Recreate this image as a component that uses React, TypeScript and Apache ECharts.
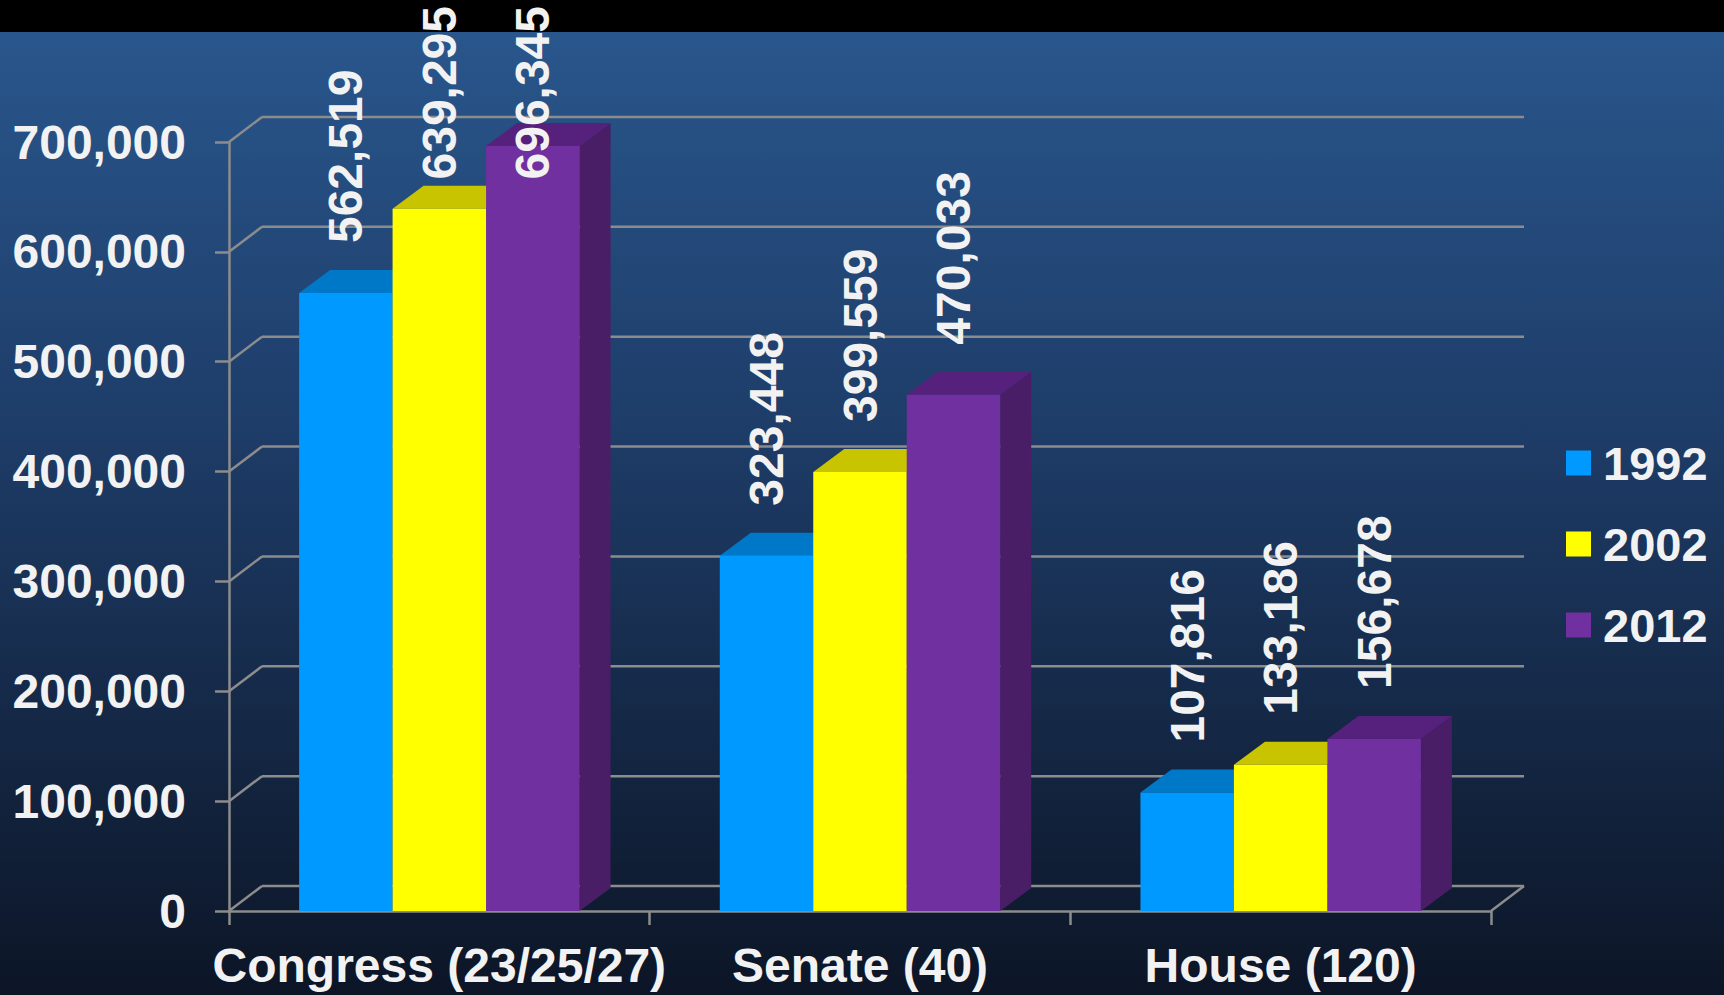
import React, { useEffect, useRef } from "react";
import * as echarts from "echarts";

const categories = ["Congress (23/25/27)", "Senate (40)", "House (120)"];
const years = ["1992", "2002", "2012"];
const values1992 = [562519, 323448, 107816];
const values2002 = [639295, 399559, 133186];
const values2012 = [696345, 470033, 156678];
const yTicks = [0, 100000, 200000, 300000, 400000, 500000, 600000, 700000];

const seriesValues = [values1992, values2002, values2012];

const FRONT = ["#0099ff", "#ffff00", "#7030a0"];
const TOP = ["#0078c8", "#c8c400", "#56217c"];
const SIDE = ["#0064a8", "#a8a400", "#4a1e66"];

const FONT = "'Liberation Sans', Arial, sans-serif";
const TEXT = "#f2f2f2";
const LINE = "#8c8c8c";
const LINE_W = 2.5;
const BAR_DX = 31;
const BAR_DY = 23;
const WALL_DX = 33;
const WALL_DY = 25;
const CAT_GAP = 1 / 3;
const LABEL_FONT = 48;
const LABEL_GAP = 50;
const LABEL_TOP_LIMIT = 6;

function measure(text: string, size: number): number {
  const c = document.createElement("canvas");
  const ctx = c.getContext("2d");
  if (!ctx) return text.length * size * 0.52;
  ctx.font = `bold ${size}px ${FONT}`;
  return ctx.measureText(text).width;
}

const fmt = (v: number) => v.toLocaleString("en-US");

export default function App() {
  const ref = useRef<HTMLDivElement>(null);

  useEffect(() => {
    if (!ref.current) return;
    const chart = echarts.init(ref.current, undefined, { renderer: "svg" });

    const barSeries = seriesValues.map((vals, si) => ({
      type: "custom",
      name: years[si],
      z: 3 + si,
      itemStyle: { color: FRONT[si] },
      data: vals.map((v, ci) => [ci, v]),
      renderItem: (params: any, api: any) => {
        const ci = api.value(0);
        const v = api.value(1);
        const top = api.coord([ci, v]);
        const base = api.coord([ci, 0]);
        const catW = api.size([1, 0])[0];
        const barW = (catW * (1 - CAT_GAP)) / 3;
        const x0 = top[0] - 1.5 * barW + si * barW;
        const yt = top[1];
        const yb = base[1];
        const label = fmt(v);
        const len = measure(label, LABEL_FONT);
        const labelBottom = Math.max(yt - LABEL_GAP, LABEL_TOP_LIMIT + len);
        return {
          type: "group",
          children: [
            {
              type: "polygon",
              shape: {
                points: [
                  [x0 + barW, yt],
                  [x0 + barW + BAR_DX, yt - BAR_DY],
                  [x0 + barW + BAR_DX, yb - BAR_DY],
                  [x0 + barW, yb],
                ],
              },
              style: { fill: SIDE[si] },
            },
            {
              type: "polygon",
              shape: {
                points: [
                  [x0, yt],
                  [x0 + barW, yt],
                  [x0 + barW + BAR_DX, yt - BAR_DY],
                  [x0 + BAR_DX, yt - BAR_DY],
                ],
              },
              style: { fill: TOP[si] },
            },
            {
              type: "rect",
              shape: { x: x0, y: yt, width: barW, height: yb - yt },
              style: { fill: FRONT[si] },
            },
            {
              type: "text",
              x: x0 + barW / 2,
              y: labelBottom,
              rotation: Math.PI / 2,
              z2: 100,
              style: {
                text: label,
                fill: TEXT,
                font: `bold ${LABEL_FONT}px ${FONT}`,
                textAlign: "left",
                textVerticalAlign: "middle",
              },
            },
          ],
        };
      },
    }));

    const wallSeries = {
      type: "custom",
      name: "walls",
      z: 1,
      silent: true,
      data: yTicks.map((t) => [0, t]),
      renderItem: (params: any, api: any) => {
        const v = api.value(1);
        const p = api.coord([0, v]);
        const cs = params.coordSys;
        const left = cs.x;
        const right = cs.x + cs.width;
        const y = p[1];
        const ls = { stroke: LINE, lineWidth: LINE_W };
        const children: any[] = [
          {
            type: "line",
            shape: { x1: left, y1: y, x2: left + WALL_DX, y2: y - WALL_DY },
            style: ls,
          },
          {
            type: "line",
            shape: { x1: left + WALL_DX, y1: y - WALL_DY, x2: right + WALL_DX, y2: y - WALL_DY },
            style: ls,
          },
        ];
        if (v === 0) {
          children.push({
            type: "line",
            shape: { x1: right, y1: y, x2: right + WALL_DX, y2: y - WALL_DY },
            style: ls,
          });
        }
        return { type: "group", children };
      },
    };

    chart.setOption({
      animation: false,
      grid: { left: 229, right: 233, top: 142, bottom: 84, containLabel: false },
      legend: {
        orient: "vertical",
        left: 1566,
        top: 438,
        padding: 0,
        icon: "rect",
        itemWidth: 25,
        itemHeight: 25,
        itemGap: 31,
        data: years,
        textStyle: {
          color: TEXT,
          fontSize: 47,
          fontWeight: "bold",
          fontFamily: FONT,
          lineHeight: 50,
          padding: [0, 0, 0, 7],
        },
      },
      xAxis: {
        type: "category",
        data: categories,
        axisLine: { lineStyle: { color: LINE, width: LINE_W } },
        axisTick: { show: true, length: 14, lineStyle: { color: LINE, width: LINE_W } },
        axisLabel: {
          interval: 0,
          hideOverlap: false,
          color: TEXT,
          fontSize: 48,
          fontWeight: "bold",
          fontFamily: FONT,
          margin: 30,
        },
        splitLine: { show: false },
      },
      yAxis: {
        type: "value",
        min: 0,
        max: 700000,
        interval: 100000,
        axisLine: { show: true, lineStyle: { color: LINE, width: LINE_W } },
        axisTick: { show: true, length: 14, lineStyle: { color: LINE, width: LINE_W } },
        axisLabel: {
          color: TEXT,
          fontSize: 48,
          fontWeight: "bold",
          fontFamily: FONT,
          margin: 43,
          formatter: (v: number) => fmt(v),
        },
        splitLine: { show: false },
      },
      series: [wallSeries, ...barSeries],
    });

    return () => chart.dispose();
  }, []);

  return (
    <div
      ref={ref}
      style={{
        position: "fixed",
        left: 0,
        top: 0,
        width: 1724,
        height: 995,
        background:
          "linear-gradient(to bottom, #000000 0px, #000000 32px, #29568c 32px, #1e3d69 420px, #0c1526 995px)",
      }}
    />
  );
}
